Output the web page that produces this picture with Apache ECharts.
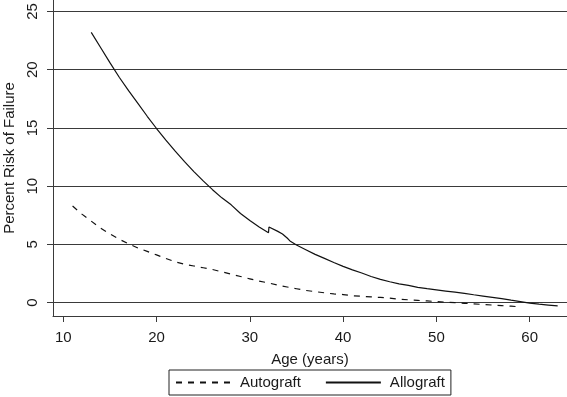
<!DOCTYPE html>
<html>
<head>
<meta charset="utf-8">
<script src="https://cdn.jsdelivr.net/npm/echarts@6/dist/echarts.min.js"></script>
<style>
html,body{margin:0;padding:0;background:#fff;}
#chart{width:567px;height:397px;}
</style>
</head>
<body>
<div id="chart"></div>
<script>
// ---- data ----
const xTicks = [10, 20, 30, 40, 50, 60];
const yTicks = [0, 5, 10, 15, 20, 25];
const seriesNames = ['Autograft', 'Allograft'];

const autoAge = [11,12,13,14,15,16,17,18,19,20,21,22,23,24,25,26,27,28,29,30,31,32,33,34,35,36,37,38,39,40,41,42,43,44,45,46,47,48,49,50,51,52,53,54,55,56,57,58,59];
const autograft = [8.3,7.6,7.0,6.4,5.9,5.45,5.05,4.7,4.4,4.1,3.8,3.5,3.3,3.15,3.0,2.85,2.65,2.45,2.25,2.05,1.85,1.7,1.5,1.35,1.2,1.05,0.95,0.85,0.75,0.7,0.6,0.55,0.5,0.45,0.4,0.3,0.25,0.2,0.15,0.1,0.05,0.0,-0.05,-0.1,-0.15,-0.2,-0.25,-0.3,-0.35];

const alloAge = [13,14,15,16,17,18,19,20,21,22,23,24,25,26,27,28,28.1,29,30,31,32,32.05,33,33.5,34,34.3,35,36,37,38,39,40,41,42,43,44,45,46,47,48,49,50,51,52,53,54,55,56,57,58,59,60,61,62,63];
const allograft = [23.2,21.9,20.6,19.35,18.2,17.1,16.0,14.95,13.95,13.0,12.1,11.25,10.45,9.7,9.0,8.4,8.25,7.65,7.05,6.5,6.0,6.5,6.12,5.9,5.55,5.3,4.95,4.55,4.15,3.8,3.45,3.12,2.82,2.55,2.25,2.0,1.8,1.62,1.48,1.32,1.2,1.1,1.0,0.9,0.8,0.68,0.57,0.46,0.35,0.22,0.1,-0.03,-0.13,-0.2,-0.28];

// ---- layout ----
const W = 567, H = 397;
const plotLeft = 53, plotTop = 0, plotBottomPx = 316;
const xMin = 8.9, xMax = 64;
const y0px = 302.7, y25px = 11.4;
const pxPerX = (W - plotLeft) / (xMax - xMin);
const tickGridLeft = plotLeft + (xTicks[0] - xMin) * pxPerX;
const tickGridRight = W - (plotLeft + (xTicks[xTicks.length - 1] - xMin) * pxPerX);

const font = '"Liberation Sans", Arial, Helvetica, sans-serif';
const ink = '#1a1a1a';
const lineCol = '#3a3a3a';

const chart = echarts.init(document.getElementById('chart'), null, {renderer: 'canvas'});
chart.setOption({
  animation: false,
  backgroundColor: '#ffffff',
  textStyle: {fontFamily: font},
  grid: [
    {left: plotLeft, right: 0, top: y25px, bottom: H - y0px, containLabel: false, outerBoundsMode: 'none'},
    {left: tickGridLeft, right: tickGridRight, top: plotTop, bottom: H - plotBottomPx, containLabel: false, outerBoundsMode: 'none'},
    {left: plotLeft, right: 0, top: plotTop, bottom: H - plotBottomPx, containLabel: false, outerBoundsMode: 'none'}
  ],
  xAxis: [
    {type: 'value', gridIndex: 0, min: xMin, max: xMax, show: false},
    {type: 'value', gridIndex: 1, min: xTicks[0], max: xTicks[xTicks.length - 1], interval: 10,
      axisLine: {show: false},
      axisTick: {show: true, length: 6, lineStyle: {color: lineCol, width: 1}},
      axisLabel: {show: true, margin: 14, color: ink, fontSize: 15, fontFamily: font},
      splitLine: {show: false}},
    {type: 'value', gridIndex: 2, min: 0, max: 1,
      name: 'Age (years)', nameLocation: 'middle', nameGap: 36,
      nameTextStyle: {color: ink, fontSize: 15, fontFamily: font},
      axisLine: {show: true, onZero: false, lineStyle: {color: lineCol, width: 1}},
      axisTick: {show: false}, axisLabel: {show: false}, splitLine: {show: false}}
  ],
  yAxis: [
    {type: 'value', gridIndex: 0, min: yTicks[0], max: yTicks[yTicks.length - 1], interval: 5,
      axisLine: {show: false},
      axisTick: {show: true, length: 6, lineStyle: {color: lineCol, width: 1}},
      axisLabel: {show: true, rotate: 90, margin: 13, color: ink, fontSize: 15, fontFamily: font},
      splitLine: {show: true, lineStyle: {color: lineCol, width: 1}}},
    {type: 'value', gridIndex: 1, show: false},
    {type: 'value', gridIndex: 2, min: 0, max: 1,
      name: 'Percent Risk of Failure', nameLocation: 'middle', nameGap: 36, nameRotate: 90,
      nameTextStyle: {color: ink, fontSize: 15, fontFamily: font},
      axisLine: {show: true, onZero: false, lineStyle: {color: lineCol, width: 1}},
      axisTick: {show: false}, axisLabel: {show: false}, splitLine: {show: false}}
  ],
  legend: {
    left: 169, top: 370,
    orient: 'horizontal',
    data: seriesNames,
    itemWidth: 55, itemHeight: 14, itemGap: 24,
    padding: [5, 6, 5, 6],
    borderColor: '#222', borderWidth: 1,
    itemStyle: {opacity: 0},
    textStyle: {color: ink, fontSize: 15, fontFamily: font, padding: [0, 0, 0, 4]}
  },
  series: [
    {name: seriesNames[0], type: 'line', xAxisIndex: 0, yAxisIndex: 0, clip: false,
      symbol: 'none', smooth: false,
      lineStyle: {color: '#111', width: 1.2, type: [6, 6]},
      itemStyle: {color: '#111'},
      data: autoAge.map((a, i) => [a, autograft[i]])},
    {name: seriesNames[1], type: 'line', xAxisIndex: 0, yAxisIndex: 0, clip: false,
      symbol: 'none', smooth: false,
      lineStyle: {color: '#111', width: 1.2, type: 'solid'},
      itemStyle: {color: '#111'},
      data: alloAge.map((a, i) => [a, allograft[i]])}
  ]
});
</script>
</body>
</html>
